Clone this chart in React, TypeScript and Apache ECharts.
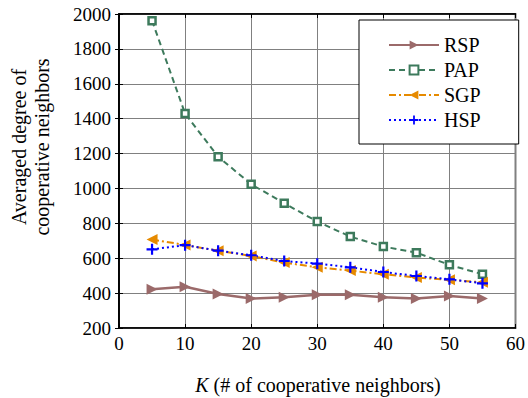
import React, { useEffect, useRef } from "react";
import * as echarts from "echarts";

const kValues = [5, 10, 15, 20, 25, 30, 35, 40, 45, 50, 55];
const rsp = [422, 437, 395, 369, 376, 390, 390, 376, 369, 384, 369];
const pap = [1962, 1429, 1182, 1024, 915, 810, 724, 667, 632, 562, 508];
const sgp = [707, 676, 643, 613, 575, 548, 529, 508, 489, 476, 462];
const hsp = [651, 675, 643, 617, 584, 569, 548, 521, 498, 479, 456];

const FONT = "Liberation Serif";
const plusPath = "path://M4,0 H6 V4 H10 V6 H6 V10 H4 V6 H0 V4 H4 Z";

export default function App() {
  const ref = useRef<HTMLDivElement>(null);
  useEffect(() => {
    if (!ref.current) return;
    const chart = echarts.init(ref.current, null, { renderer: "svg" });
    const pts = (vals: number[]) => kValues.map((k, i) => [k, vals[i]]);
    const axisCommon = {
      axisLine: { show: true, lineStyle: { color: "#000", width: 1.5 } },
      axisTick: { show: true, inside: true, length: 4, lineStyle: { color: "#000" } },
    };
    chart.setOption({
      animation: false,
      backgroundColor: "#fff",
      textStyle: { fontFamily: FONT },
      grid: {
        left: 119, right: 8, top: 14, bottom: 70,
        show: true, borderColor: "#000", borderWidth: 1.5,
      },
      legend: {
        orient: "vertical",
        left: 359,
        top: 20,
        itemWidth: 50,
        itemHeight: 11,
        itemGap: 5,
        padding: [15, 38, 14, 29],
        borderColor: "#000",
        borderWidth: 1,
        backgroundColor: "#fff",
        textStyle: { fontFamily: FONT, fontSize: 20, color: "#000", lineHeight: 18 },
        data: ["RSP", "PAP", "SGP", "HSP"],
      },
      xAxis: [
        {
          type: "value", min: 0, max: 60, interval: 10, position: "bottom",
          ...axisCommon,
          axisLabel: { fontFamily: FONT, fontSize: 19, color: "#000", margin: 6 },
          splitLine: { show: true, lineStyle: { color: "#808080", width: 1 } },
        },
        {
          type: "value", min: 0, max: 60, interval: 10, position: "top",
          ...axisCommon,
          axisLabel: { show: false },
          splitLine: { show: false },
        },
      ],
      yAxis: [
        {
          type: "value", min: 200, max: 2000, interval: 200, position: "left",
          ...axisCommon,
          axisLabel: {
            fontFamily: FONT, fontSize: 19, color: "#000", margin: 8,
            formatter: (v: number) => String(v),
          },
          splitLine: { show: true, lineStyle: { color: "#808080", width: 1 } },
        },
        {
          type: "value", min: 200, max: 2000, interval: 200, position: "right",
          ...axisCommon,
          axisLabel: { show: false },
          splitLine: { show: false },
        },
      ],
      graphic: [
        {
          type: "text", x: 19, y: 147, rotation: Math.PI / 2,
          style: {
            text: "Averaged degree of", fontFamily: FONT, fontSize: 20, fill: "#000",
            align: "center", verticalAlign: "middle",
          },
        },
        {
          type: "text", x: 42, y: 147, rotation: Math.PI / 2,
          style: {
            text: "cooperative neighbors", fontFamily: FONT, fontSize: 20, fill: "#000",
            align: "center", verticalAlign: "middle",
          },
        },
        {
          type: "text", x: 318, y: 385,
          style: {
            text: "{i|K} (# of cooperative neighbors)",
            fontFamily: FONT, fontSize: 20, fill: "#000",
            align: "center", verticalAlign: "middle",
            rich: { i: { fontFamily: FONT, fontSize: 20, fontStyle: "italic" } },
          },
        },
      ],
      series: [
        {
          name: "RSP", type: "line", data: pts(rsp),
          symbol: "triangle", symbolRotate: -90, symbolSize: 11,
          lineStyle: { color: "#9b6a6a", width: 2.5, type: "solid" },
          itemStyle: { color: "#9b6a6a" },
        },
        {
          name: "PAP", type: "line", data: pts(pap),
          symbol: "rect", symbolSize: 7,
          lineStyle: { color: "#3d7a5c", width: 2, type: [6, 4] },
          itemStyle: { color: "#fff", borderColor: "#3d7a5c", borderWidth: 2.5 },
        },
        {
          name: "SGP", type: "line", data: pts(sgp),
          symbol: "triangle", symbolRotate: 90, symbolSize: 11,
          lineStyle: { color: "#e68a00", width: 2, type: [7, 3, 2, 3] },
          itemStyle: { color: "#e68a00" },
        },
        {
          name: "HSP", type: "line", data: pts(hsp),
          symbol: plusPath, symbolSize: 11,
          lineStyle: { color: "#0000ff", width: 2, type: [2, 3] },
          itemStyle: { color: "#0000ff" },
        },
      ],
    });
    return () => chart.dispose();
  }, []);
  return <div ref={ref} style={{ width: 528, height: 398, position: "absolute", left: 0, top: 0 }} />;
}
